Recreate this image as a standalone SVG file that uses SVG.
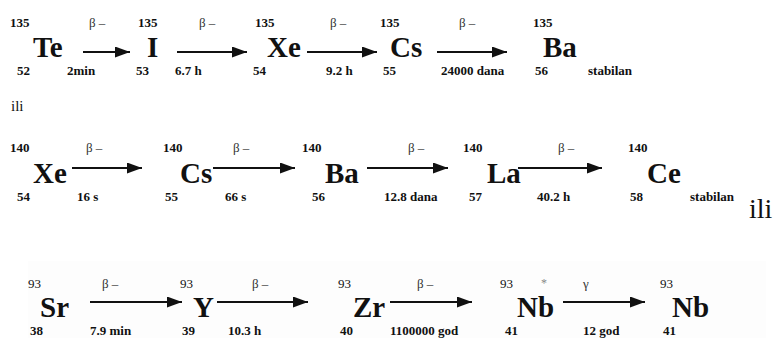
<svg xmlns="http://www.w3.org/2000/svg" width="780" height="338" viewBox="0 0 780 338">
<style>
text{font-family:"Liberation Serif","Times New Roman",serif;fill:#111}
.el{font-size:29px;font-weight:bold}
.n{font-size:13px;font-weight:bold}
.nr{font-size:13px}
.b{font-size:13px;fill:#333}
.ili{font-size:15px}
.ilib{font-size:28px}
.ar{stroke:#111;stroke-width:2;fill:none}
</style>
<defs>
<marker id="ah" markerUnits="userSpaceOnUse" markerWidth="15" markerHeight="11" refX="15" refY="5.5" orient="auto">
<path d="M0,0 L15,5.5 L0,11 z" fill="#111"/>
</marker>
</defs>
<rect x="28" y="261" width="738" height="77" fill="#fdfdfd"/>
<text class="ili" x="11" y="111">ili</text>
<text class="ilib" x="749" y="218">ili</text>
<!-- Row 1 -->
<g id="Te135"><text class="n" x="10" y="27">135</text><text class="el" x="33" y="57">Te</text><text class="n" x="17" y="75">52</text></g>
<g id="I135"><text class="n" x="138" y="27">135</text><text class="el" x="147" y="57">I</text><text class="n" x="136" y="75">53</text></g>
<g id="Xe135"><text class="n" x="255" y="27">135</text><text class="el" x="267" y="57">Xe</text><text class="n" x="253" y="75">54</text></g>
<g id="Cs135"><text class="n" x="380" y="27">135</text><text class="el" x="390" y="57">Cs</text><text class="n" x="383" y="75">55</text></g>
<g id="Ba135"><text class="n" x="533" y="27">135</text><text class="el" x="543" y="57">Ba</text><text class="n" x="535" y="75">56</text><text class="n" x="588" y="75">stabilan</text></g>
<!-- Row 2 -->
<g id="Xe140"><text class="n" x="10" y="152">140</text><text class="el" x="33" y="183">Xe</text><text class="n" x="17" y="201">54</text></g>
<g id="Cs140"><text class="n" x="163" y="152">140</text><text class="el" x="180" y="183">Cs</text><text class="n" x="165" y="201">55</text></g>
<g id="Ba140"><text class="n" x="302" y="152">140</text><text class="el" x="325" y="183">Ba</text><text class="n" x="312" y="201">56</text></g>
<g id="La140"><text class="n" x="463" y="152">140</text><text class="el" x="487" y="183">La</text><text class="n" x="469" y="201">57</text></g>
<g id="Ce140"><text class="n" x="628" y="152">140</text><text class="el" x="647" y="183">Ce</text><text class="n" x="630" y="201">58</text><text class="n" x="690" y="201">stabilan</text></g>
<!-- Row 3 -->
<g id="Sr93"><text class="nr" x="28" y="288">93</text><text class="el" x="40" y="317">Sr</text><text class="n" x="30" y="335">38</text></g>
<g id="Y93"><text class="nr" x="180" y="288">93</text><text class="el" x="193" y="317">Y</text><text class="n" x="182" y="335">39</text></g>
<g id="Zr93"><text class="nr" x="338" y="288">93</text><text class="el" x="353" y="317">Zr</text><text class="n" x="340" y="335">40</text></g>
<g id="Nb93m"><text class="nr" x="500" y="288">93</text><text class="el" x="517" y="317">Nb</text><text class="nr" x="541" y="287" style="fill:#888;font-size:12px">*</text><text class="n" x="505" y="335">41</text></g>
<g id="Nb93"><text class="nr" x="660" y="288">93</text><text class="el" x="672" y="317">Nb</text><text class="n" x="663" y="335">41</text></g>
<g id="connectors">
<g><line class="ar" x1="83" y1="52" x2="130" y2="52" marker-end="url(#ah)"/><text class="b" x="89" y="27">β –</text><text class="n" x="67" y="75">2min</text></g>
<g><line class="ar" x1="177" y1="52" x2="247" y2="52" marker-end="url(#ah)"/><text class="b" x="199" y="27">β –</text><text class="n" x="175" y="75">6.7 h</text></g>
<g><line class="ar" x1="307" y1="52" x2="377" y2="52" marker-end="url(#ah)"/><text class="b" x="330" y="27">β –</text><text class="n" x="326" y="75">9.2 h</text></g>
<g><line class="ar" x1="437" y1="52" x2="507" y2="52" marker-end="url(#ah)"/><text class="b" x="459" y="27">β –</text><text class="n" x="441" y="75">24000 dana</text></g>
<g><line class="ar" x1="72" y1="168" x2="142" y2="168" marker-end="url(#ah)"/><text class="b" x="86" y="152">β –</text><text class="n" x="77" y="201">16 s</text></g>
<g><line class="ar" x1="213" y1="168" x2="295" y2="168" marker-end="url(#ah)"/><text class="b" x="233" y="152">β –</text><text class="n" x="225" y="201">66 s</text></g>
<g><line class="ar" x1="367" y1="168" x2="448" y2="168" marker-end="url(#ah)"/><text class="b" x="408" y="152">β –</text><text class="n" x="384" y="201">12.8 dana</text></g>
<g><line class="ar" x1="518" y1="168" x2="602" y2="168" marker-end="url(#ah)"/><text class="b" x="558" y="152">β –</text><text class="n" x="537" y="201">40.2 h</text></g>
<g><line class="ar" x1="90" y1="302" x2="182" y2="302" marker-end="url(#ah)"/><text class="b" x="102" y="288">β –</text><text class="n" x="90" y="335">7.9 min</text></g>
<g><line class="ar" x1="217" y1="302" x2="308" y2="302" marker-end="url(#ah)"/><text class="b" x="252" y="288">β –</text><text class="n" x="228" y="335">10.3 h</text></g>
<g><line class="ar" x1="390" y1="302" x2="472" y2="302" marker-end="url(#ah)"/><text class="b" x="417" y="288">β –</text><text class="n" x="390" y="335">1100000 god</text></g>
<g><line class="ar" x1="563" y1="302" x2="645" y2="302" marker-end="url(#ah)"/><text class="b" x="583" y="288">γ</text><text class="n" x="583" y="335">12 god</text></g>
</g>
</svg>
